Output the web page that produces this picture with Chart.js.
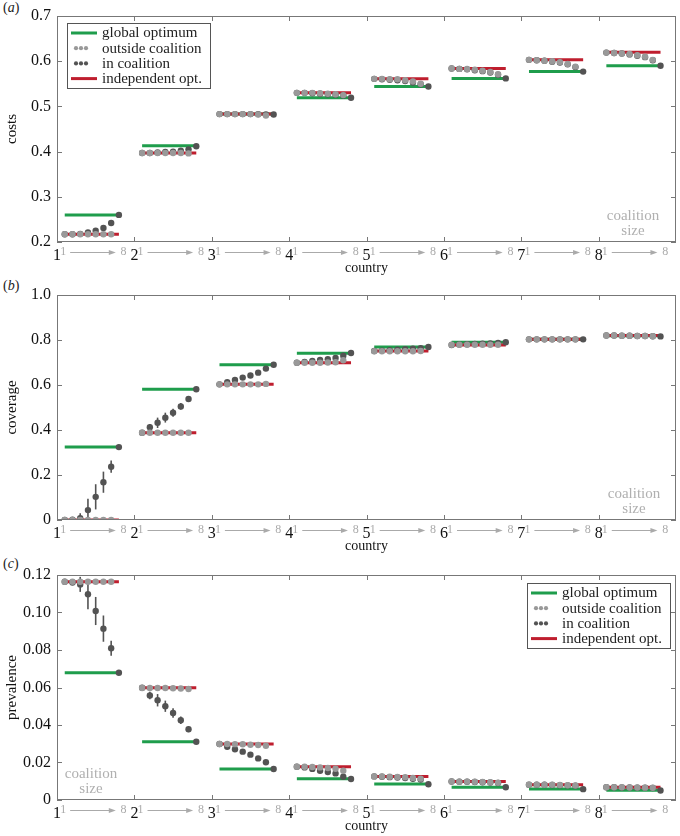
<!DOCTYPE html>
<html>
<head>
<meta charset="utf-8">
<script src="https://cdn.jsdelivr.net/npm/chart.js@4.4.0/dist/chart.umd.min.js"></script>
<style>
  body { margin: 0; background: #fff; width: 680px; height: 836px; overflow: hidden; position: relative; }
  .panel { position: absolute; left: 0; }
  .tag { position: absolute; left: 3px; font: 14px 'Liberation Serif', serif; color: #222; }
</style>
</head>
<body>
<div class="tag" style="top:0px">(<i>a</i>)</div>
<div class="tag" style="top:278px">(<i>b</i>)</div>
<div class="tag" style="top:556px">(<i>c</i>)</div>
<canvas id="costs" class="panel" style="top:0px" width="680" height="278"></canvas>
<canvas id="coverage" class="panel" style="top:278px" width="680" height="278"></canvas>
<canvas id="prevalence" class="panel" style="top:556px" width="680" height="280"></canvas>
<script>
const countries = [1, 2, 3, 4, 5, 6, 7, 8];
const sizes = [1, 2, 3, 4, 5, 6, 7, 8];

// (a) costs
const costOpt = [0.260, 0.413, 0.483, 0.519, 0.544, 0.562, 0.577, 0.590];
const costInd = [0.217, 0.397, 0.483, 0.530, 0.561, 0.584, 0.603, 0.620];
const costOut = [
    [0.217, 0.217, 0.217, 0.217, 0.217, 0.217, 0.217],
    [0.397, 0.397, 0.397, 0.397, 0.397, 0.397, 0.396],
    [0.483, 0.483, 0.483, 0.483, 0.483, 0.482, 0.480],
    [0.530, 0.530, 0.530, 0.529, 0.528, 0.527, 0.525],
    [0.561, 0.561, 0.560, 0.560, 0.558, 0.555, 0.550],
    [0.584, 0.583, 0.583, 0.581, 0.579, 0.576, 0.571],
    [0.603, 0.602, 0.601, 0.600, 0.598, 0.594, 0.588],
    [0.619, 0.618, 0.617, 0.616, 0.613, 0.610, 0.603]
];
const costOutErr = [
    [0, 0, 0, 0, 0, 0, 0],
    [0, 0, 0, 0, 0, 0, 0.002],
    [0, 0, 0, 0, 0, 0, 0.002],
    [0, 0, 0, 0, 0, 0.002, 0.003],
    [0, 0, 0, 0, 0, 0.002, 0.004],
    [0, 0, 0, 0, 0, 0.003, 0.005],
    [0, 0, 0, 0, 0, 0.003, 0.005],
    [0, 0, 0, 0, 0, 0.003, 0.006]
];
const costIn = [
    [0.217, 0.217, 0.218, 0.221, 0.225, 0.231, 0.242, 0.260],
    [0.397, 0.397, 0.398, 0.399, 0.400, 0.402, 0.405, 0.412],
    [0.483, 0.483, 0.483, 0.483, 0.483, 0.483, 0.482, 0.482],
    [0.530, 0.530, 0.529, 0.528, 0.527, 0.526, 0.524, 0.519],
    [0.561, 0.560, 0.559, 0.558, 0.556, 0.553, 0.549, 0.544],
    [0.584, 0.583, 0.582, 0.580, 0.578, 0.575, 0.570, 0.562],
    [0.603, 0.602, 0.601, 0.599, 0.597, 0.593, 0.587, 0.577],
    [0.619, 0.618, 0.617, 0.615, 0.612, 0.609, 0.602, 0.590]
];
const costTicks = [0.2, 0.3, 0.4, 0.5, 0.6, 0.7];

// (b) coverage
const covOpt = [0.324, 0.581, 0.690, 0.741, 0.769, 0.790, 0.803, 0.819];
const covInd = [0.000, 0.388, 0.603, 0.699, 0.751, 0.778, 0.803, 0.820];
const covOut = [
    [0, 0, 0, 0, 0, 0, 0],
    [0.388, 0.388, 0.388, 0.388, 0.388, 0.388, 0.388],
    [0.603, 0.603, 0.603, 0.603, 0.603, 0.603, 0.605],
    [0.699, 0.699, 0.699, 0.699, 0.700, 0.701, 0.710],
    [0.750, 0.750, 0.750, 0.750, 0.750, 0.750, 0.751],
    [0.779, 0.779, 0.779, 0.779, 0.779, 0.779, 0.779],
    [0.803, 0.803, 0.803, 0.803, 0.803, 0.803, 0.803],
    [0.820, 0.820, 0.819, 0.819, 0.818, 0.818, 0.817]
];
const covOutErr = [
    [0, 0, 0, 0, 0, 0, 0],
    [0, 0, 0, 0, 0, 0, 0],
    [0, 0, 0, 0, 0, 0, 0],
    [0, 0, 0, 0, 0, 0, 0.006],
    [0, 0, 0, 0, 0, 0, 0],
    [0, 0, 0, 0, 0, 0, 0],
    [0, 0, 0, 0, 0, 0, 0],
    [0, 0, 0, 0, 0, 0, 0]
];
const covIn = [
    [0.000, 0.001, 0.008, 0.044, 0.103, 0.168, 0.237, 0.324],
    [0.388, 0.412, 0.432, 0.455, 0.477, 0.505, 0.538, 0.581],
    [0.603, 0.612, 0.622, 0.633, 0.642, 0.655, 0.673, 0.690],
    [0.699, 0.703, 0.707, 0.711, 0.715, 0.720, 0.730, 0.742],
    [0.751, 0.753, 0.755, 0.757, 0.759, 0.761, 0.764, 0.769],
    [0.778, 0.780, 0.781, 0.782, 0.784, 0.785, 0.787, 0.790],
    [0.803, 0.803, 0.803, 0.803, 0.803, 0.803, 0.803, 0.803],
    [0.820, 0.820, 0.819, 0.819, 0.818, 0.818, 0.817, 0.816]
];
const covInErr = [
    [0, 0, 0.022, 0.050, 0.056, 0.047, 0.027, 0],
    [0, 0.015, 0.023, 0.022, 0.018, 0.015, 0.010, 0],
    [0, 0.004, 0.005, 0.005, 0.004, 0.004, 0.003, 0],
    [0, 0.003, 0.003, 0.003, 0.003, 0.003, 0.004, 0],
    [0, 0, 0, 0, 0, 0, 0, 0],
    [0, 0, 0, 0, 0, 0, 0, 0],
    [0, 0, 0, 0, 0, 0, 0, 0],
    [0, 0, 0, 0, 0, 0, 0, 0]
];
const covTicks = [0, 0.2, 0.4, 0.6, 0.8, 1.0];

// (c) prevalence
const prevOpt = [0.0679, 0.0311, 0.0165, 0.0113, 0.0085, 0.0068, 0.0059, 0.0052];
const prevInd = [0.1164, 0.0599, 0.0299, 0.0178, 0.0126, 0.0099, 0.0082, 0.0068];
const prevOut = [
    [0.1164, 0.1164, 0.1164, 0.1164, 0.1164, 0.1164, 0.1164],
    [0.0597, 0.0597, 0.0597, 0.0597, 0.0596, 0.0595, 0.0592],
    [0.0299, 0.0299, 0.0298, 0.0297, 0.0295, 0.0293, 0.0289],
    [0.0178, 0.0177, 0.0176, 0.0174, 0.0171, 0.0167, 0.0156],
    [0.0126, 0.0125, 0.0124, 0.0123, 0.0121, 0.0118, 0.0114],
    [0.0099, 0.0098, 0.0098, 0.0097, 0.0096, 0.0095, 0.0092],
    [0.0082, 0.0082, 0.0081, 0.0081, 0.0080, 0.0079, 0.0077],
    [0.0068, 0.0068, 0.0068, 0.0067, 0.0067, 0.0066, 0.0065]
];
const prevOutErr = [
    [0, 0, 0, 0, 0, 0, 0],
    [0, 0, 0, 0, 0, 0, 0],
    [0, 0, 0, 0, 0, 0, 0],
    [0, 0, 0, 0, 0, 0, 0.0012],
    [0, 0, 0, 0, 0, 0, 0.0008],
    [0, 0, 0, 0, 0, 0, 0],
    [0, 0, 0, 0, 0, 0, 0],
    [0, 0, 0, 0, 0, 0, 0]
];
const prevIn = [
    [0.1164, 0.1160, 0.1150, 0.1097, 0.1008, 0.0914, 0.0809, 0.0679],
    [0.0599, 0.0558, 0.0532, 0.0500, 0.0464, 0.0425, 0.0377, 0.0311],
    [0.0299, 0.0284, 0.0271, 0.0258, 0.0242, 0.0222, 0.0201, 0.0165],
    [0.0178, 0.0174, 0.0166, 0.0156, 0.0149, 0.0142, 0.0124, 0.0112],
    [0.0126, 0.0124, 0.0122, 0.0120, 0.0117, 0.0113, 0.0109, 0.0084],
    [0.0099, 0.0098, 0.0097, 0.0096, 0.0095, 0.0093, 0.0091, 0.0068],
    [0.0082, 0.0081, 0.0081, 0.0080, 0.0079, 0.0078, 0.0076, 0.0058],
    [0.0068, 0.0068, 0.0067, 0.0067, 0.0066, 0.0065, 0.0064, 0.0051]
];
const prevInErr = [
    [0, 0, 0.0040, 0.0080, 0.0075, 0.0070, 0.0040, 0],
    [0, 0.0020, 0.0033, 0.0030, 0.0025, 0.0020, 0.0015, 0],
    [0, 0.0006, 0.0008, 0.0008, 0.0008, 0.0007, 0.0006, 0],
    [0, 0.0005, 0.0006, 0.0006, 0.0006, 0.0006, 0.0008, 0],
    [0, 0, 0, 0, 0, 0, 0, 0],
    [0, 0, 0, 0, 0, 0, 0, 0],
    [0, 0, 0, 0, 0, 0, 0, 0],
    [0, 0, 0, 0, 0, 0, 0, 0]
];
const prevTicks = [0, 0.02, 0.04, 0.06, 0.08, 0.10, 0.12];

const GREEN = '#1f9d4c';
const RED = '#bf1e2e';
const GREY = '#999999';
const DARK = '#535353';
const AXIS = '#777777';
const SERIF = "'Liberation Serif', 'DejaVu Serif', serif";

// horizontal bar for each country, spanning coalition sizes 1..8
function segments(vals) {
    const d = [];
    vals.forEach((v, i) => {
        const c = countries[i];
        d.push({ x: c + sizes[0] / 10, y: v }, { x: c + sizes[7] / 10, y: v }, { x: c + 0.9, y: null });
    });
    return d;
}

function points(rows) {
    const d = [];
    rows.forEach((row, ci) => row.forEach((v, k) => d.push({ x: countries[ci] + sizes[k] / 10, y: v })));
    return d;
}

const legendItems = [
    { text: 'global optimum', kind: 'line', color: GREEN },
    { text: 'outside coalition', kind: 'dots', color: GREY },
    { text: 'in coalition', kind: 'dots', color: DARK },
    { text: 'independent opt.', kind: 'line', color: RED }
];

const framePlugin = {
    id: 'frame',
    beforeDatasetDraw(chart, args) {
        const ds = chart.data.datasets[args.index];
        if (!ds.err) return;
        const { ctx, chartArea } = chart;
        const y = chart.scales.y;
        ctx.save();
        ctx.beginPath();
        ctx.rect(chartArea.left, chartArea.top, chartArea.width, chartArea.height);
        ctx.clip();
        ctx.strokeStyle = ds.backgroundColor;
        ctx.lineWidth = 1.6;
        args.meta.data.forEach((pt, i) => {
            const e = ds.err[i];
            if (!e) return;
            const v = ds.data[i].y;
            ctx.beginPath();
            ctx.moveTo(pt.x, y.getPixelForValue(v + e));
            ctx.lineTo(pt.x, y.getPixelForValue(v - e));
            ctx.stroke();
        });
        ctx.restore();
    },
    afterDraw(chart, args, opts) {
        const { ctx, chartArea: a } = chart;
        const x = chart.scales.x, y = chart.scales.y;
        ctx.save();
        ctx.strokeStyle = AXIS;
        ctx.lineWidth = 1;
        ctx.strokeRect(a.left + 0.5, a.top + 0.5, a.width - 1, a.height - 1);
        // inner ticks on all four sides
        ctx.beginPath();
        countries.forEach(c => {
            if (c === countries[0]) return;
            const px = Math.round(x.getPixelForValue(c)) + 0.5;
            ctx.moveTo(px, a.bottom); ctx.lineTo(px, a.bottom - 5);
            ctx.moveTo(px, a.top); ctx.lineTo(px, a.top + 5);
        });
        y.ticks.forEach(t => {
            const py = Math.round(y.getPixelForValue(t.value)) + 0.5;
            ctx.moveTo(a.left, py); ctx.lineTo(a.left + 5, py);
            ctx.moveTo(a.right, py); ctx.lineTo(a.right - 5, py);
        });
        ctx.stroke();

        // coalition size 1 -> 8 under each country
        ctx.fillStyle = '#aaaaaa';
        ctx.strokeStyle = '#aaaaaa';
        ctx.font = '12px ' + SERIF;
        ctx.textBaseline = 'middle';
        ctx.textAlign = 'center';
        const ly = a.bottom + 10;
        countries.forEach(c => {
            ctx.fillText(String(sizes[0]), x.getPixelForValue(c + 0.08), ly);
            ctx.fillText(String(sizes[7]), x.getPixelForValue(c + 0.86), ly);
            const x0 = x.getPixelForValue(c + 0.17), x1 = x.getPixelForValue(c + 0.76);
            ctx.beginPath();
            ctx.moveTo(x0, ly + 0.5); ctx.lineTo(x1 - 5, ly + 0.5);
            ctx.stroke();
            ctx.beginPath();
            ctx.moveTo(x1, ly + 0.5); ctx.lineTo(x1 - 7, ly - 2); ctx.lineTo(x1 - 7, ly + 3);
            ctx.closePath();
            ctx.fill();
        });

        // "coalition size" note
        const n = opts.note;
        ctx.font = '15px ' + SERIF;
        ctx.fillStyle = '#b0b0b0';
        const nx = n.side === 'left' ? a.left + n.dx : a.right - n.dx;
        ctx.fillText('coalition', nx, a.bottom - 26);
        ctx.fillText('size', nx, a.bottom - 11);

        // legend
        const lg = opts.legend;
        if (lg) {
            const bw = 143, bh = 65;
            const bx = lg.side === 'left' ? a.left + lg.dx : a.right - lg.dx - bw;
            const by = a.top + lg.dy;
            ctx.fillStyle = '#fff';
            ctx.fillRect(bx, by, bw, bh);
            ctx.strokeStyle = '#555';
            ctx.strokeRect(bx + 0.5, by + 0.5, bw, bh);
            ctx.font = '15px ' + SERIF;
            ctx.textAlign = 'left';
            legendItems.forEach((it, i) => {
                const ry = by + 10 + i * 15.2;
                if (it.kind === 'line') {
                    ctx.strokeStyle = it.color;
                    ctx.lineWidth = 3;
                    ctx.beginPath();
                    ctx.moveTo(bx + 4, ry); ctx.lineTo(bx + 30, ry);
                    ctx.stroke();
                } else {
                    ctx.fillStyle = it.color;
                    [9, 14, 19].forEach(dx => {
                        ctx.beginPath();
                        ctx.arc(bx + dx, ry, 2.1, 0, Math.PI * 2);
                        ctx.fill();
                    });
                }
                ctx.fillStyle = '#222';
                ctx.fillText(it.text, bx + 35, ry + 0.5);
            });
        }
        ctx.restore();
    }
};

function makePanel(id, cfg) {
    const datasets = [
        { label: 'global optimum', data: segments(cfg.opt), showLine: true, spanGaps: false,
          borderColor: GREEN, borderWidth: 3, pointRadius: 0, borderCapStyle: 'butt', order: 4 },
        { label: 'independent opt.', data: segments(cfg.ind), showLine: true, spanGaps: false,
          borderColor: RED, borderWidth: 3, pointRadius: 0, borderCapStyle: 'butt', order: 3 },
        { label: 'in coalition', data: points(cfg.inVals), err: cfg.inErr ? cfg.inErr.flat() : null,
          backgroundColor: DARK, borderWidth: 0, pointRadius: 3.2, order: 2 },
        { label: 'outside coalition', data: points(cfg.outVals), err: cfg.outErr ? cfg.outErr.flat() : null,
          backgroundColor: GREY, borderWidth: 0, pointRadius: 3.2, order: 1 }
    ];
    new Chart(document.getElementById(id), {
        type: 'scatter',
        data: { datasets: datasets },
        options: {
            responsive: false,
            animation: false,
            layout: { padding: { top: cfg.top, right: 1, left: 0, bottom: 0 } },
            plugins: {
                legend: { display: false },
                tooltip: { enabled: false },
                frame: { legend: cfg.legend, note: cfg.note }
            },
            scales: {
                x: {
                    type: 'linear', min: 1, max: 9,
                    afterBuildTicks: s => { s.ticks = countries.map(v => ({ value: v })); },
                    afterFit: s => { s.height = 36; },
                    grid: { display: false, drawTicks: false },
                    border: { display: false },
                    ticks: { color: '#111', font: { family: SERIF, size: 16 }, padding: 4, maxRotation: 0, autoSkip: false },
                    title: { display: true, text: 'country', color: '#111', font: { family: SERIF, size: 14 }, padding: { top: 0, bottom: 1 } }
                },
                y: {
                    min: cfg.ticks[0], max: cfg.ticks[cfg.ticks.length - 1],
                    afterBuildTicks: s => { s.ticks = cfg.ticks.map(v => ({ value: v })); },
                    afterFit: s => { s.width = 57; },
                    grid: { display: false, drawTicks: false },
                    border: { display: false },
                    ticks: { color: '#111', font: { family: SERIF, size: 16 }, padding: 6, callback: cfg.fmt },
                    title: { display: true, text: id, color: '#111', font: { family: SERIF, size: 15 }, padding: { top: 3, bottom: 0 } }
                }
            }
        },
        plugins: [framePlugin]
    });
}

makePanel('costs', {
    opt: costOpt, ind: costInd, outVals: costOut, outErr: costOutErr, inVals: costIn, inErr: null,
    ticks: costTicks, fmt: v => v.toFixed(1), top: 16,
    legend: { side: 'left', dx: 10, dy: 7 }, note: { side: 'right', dx: 43 }
});
makePanel('coverage', {
    opt: covOpt, ind: covInd, outVals: covOut, outErr: covOutErr, inVals: covIn, inErr: covInErr,
    ticks: covTicks, fmt: v => (v === 0 ? '0' : v.toFixed(1)), top: 17,
    legend: null, note: { side: 'right', dx: 42 }
});
makePanel('prevalence', {
    opt: prevOpt, ind: prevInd, outVals: prevOut, outErr: prevOutErr, inVals: prevIn, inErr: prevInErr,
    ticks: prevTicks, fmt: v => (v === 0 ? '0' : v.toFixed(2)), top: 19,
    legend: { side: 'right', dx: 6, dy: 8 }, note: { side: 'left', dx: 34 }
});
</script>
</body>
</html>
